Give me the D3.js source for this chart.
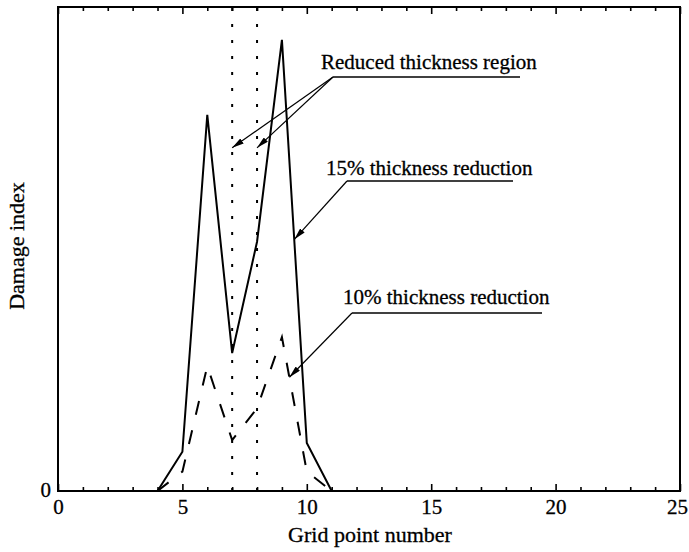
<!DOCTYPE html>
<html>
<head>
<meta charset="utf-8">
<script src="https://cdn.jsdelivr.net/npm/d3@7"></script>
<style>
  body { margin: 0; background: #fff; }
  svg text { font-family: "Liberation Serif", "Times New Roman", serif; fill: #000; stroke: #000; stroke-width: 0.3; }
</style>
</head>
<body>
<svg id="chart" width="689" height="552"></svg>
<script>
// grid points and damage index
const gridPoints = [4, 5, 6, 7, 8, 9, 10, 11];
const damage15 = [0, 0.081, 0.777, 0.285, 0.515, 0.932, 0.099, 0];
const damage10 = [0, 0.04, 0.258, 0.105, 0.171, 0.318, 0.04, 0];
const regionBounds = [7, 8];
const majorTicks = [0, 5, 10, 15, 20, 25];
const minorTicks = [1, 2, 3, 4, 6, 7, 8, 9, 11, 12, 13, 14, 16, 17, 18, 19, 21, 22, 23, 24];
const yTickLabels = ['0'];

const labels = ['Reduced thickness region', '15% thickness reduction', '10% thickness reduction'];

const margin = {left: 58, right: 9, top: 7, bottom: 61};
const width = 689, height = 552;
const svg = d3.select('#chart');

const x = d3.scaleLinear().domain([0, 25]).range([margin.left, width - margin.right]);
const y = d3.scaleLinear().domain([0, 1]).range([height - margin.bottom, margin.top]);

const defs = svg.append('defs');
defs.append('marker')
    .attr('id', 'arrow')
    .attr('viewBox', '0 0 12 6')
    .attr('refX', 12).attr('refY', 3)
    .attr('markerWidth', 12).attr('markerHeight', 6)
    .attr('markerUnits', 'userSpaceOnUse')
    .attr('orient', 'auto')
    .append('path')
    .attr('d', 'M0,0 L12,3 L0,6 Z')
    .attr('fill', '#000');

// axes (ticks point inward, labels only at the bottom)
const bottomAxis = svg.append('g').attr('transform', `translate(0,${y(0)})`);
bottomAxis.call(d3.axisBottom(x).tickValues(majorTicks).tickSize(-7).tickPadding(8).tickFormat(d3.format('d')));
bottomAxis.append('g').call(d3.axisBottom(x).tickValues(minorTicks).tickSize(-4).tickFormat(''));

const topAxis = svg.append('g').attr('transform', `translate(0,${y(1)})`);
topAxis.call(d3.axisTop(x).tickValues(majorTicks).tickSize(-7).tickFormat(''));
topAxis.append('g').call(d3.axisTop(x).tickValues(minorTicks).tickSize(-4).tickFormat(''));

svg.selectAll('.domain').remove();
svg.selectAll('.tick line').attr('stroke', '#000').attr('stroke-width', 1.6);
bottomAxis.selectAll('.tick text').style('font-size', '21px').attr('font-family', null)
    .attr('dx', d => d === 25 ? -3 : 0);

svg.append('rect')
    .attr('x', x(0)).attr('y', y(1))
    .attr('width', x(25) - x(0)).attr('height', y(0) - y(1))
    .attr('fill', 'none').attr('stroke', '#000').attr('stroke-width', 2);

svg.append('text')
    .attr('x', x(0) - 7).attr('y', y(0)).attr('dy', '0.3em')
    .attr('text-anchor', 'end')
    .style('font-size', '21px')
    .text(yTickLabels[0]);

// axis titles
svg.append('text')
    .attr('x', (x(0) + x(25)) / 2 + 1).attr('y', 542)
    .attr('text-anchor', 'middle')
    .style('font-size', '22px')
    .text('Grid point number');

svg.append('text')
    .attr('transform', `translate(24,${246}) rotate(-90)`)
    .attr('text-anchor', 'middle')
    .style('font-size', '22px')
    .text('Damage index');

// reduced thickness region bounds
svg.selectAll('.bound')
    .data(regionBounds)
    .enter().append('line')
    .attr('x1', d => x(d)).attr('x2', d => x(d))
    .attr('y1', y(0)).attr('y2', y(1))
    .attr('stroke', '#000')
    .attr('stroke-width', 2)
    .attr('stroke-dasharray', '3,13');

const line = d3.line().x(d => x(d[0])).y(d => y(d[1]));

svg.append('path')
    .datum(d3.zip(gridPoints, damage10))
    .attr('d', line)
    .attr('fill', 'none').attr('stroke', '#000')
    .attr('stroke-width', 2)
    .attr('stroke-dasharray', '14,16');

svg.append('path')
    .datum(d3.zip(gridPoints, damage15))
    .attr('d', line)
    .attr('fill', 'none').attr('stroke', '#000')
    .attr('stroke-width', 2)
    .attr('stroke-linejoin', 'miter');

// callouts: text, underline, arrows into data coordinates
const callouts = [
    {text: labels[0], tx: 321, ty: 69, ux1: 333, ux2: 520, uy: 77,
     targets: [[7, 0.709], [8, 0.709]]},
    {text: labels[1], tx: 326, ty: 175, ux1: 347, ux2: 513, uy: 181,
     targets: [[9.5, 0.52]]},
    {text: labels[2], tx: 343, ty: 304, ux1: 352, ux2: 542, uy: 313,
     targets: [[9.3, 0.235]]}
];

const callout = svg.selectAll('.callout')
    .data(callouts)
    .enter().append('g');

callout.append('text')
    .attr('x', d => d.tx).attr('y', d => d.ty)
    .style('font-size', '21px')
    .text(d => d.text);

callout.append('line')
    .attr('x1', d => d.ux1).attr('x2', d => d.ux2)
    .attr('y1', d => d.uy).attr('y2', d => d.uy)
    .attr('stroke', '#000').attr('stroke-width', 1.3);

callout.selectAll('.arrow')
    .data(d => d.targets.map(t => ({from: [d.ux1, d.uy], to: t})))
    .enter().append('line')
    .attr('x1', d => d.from[0]).attr('y1', d => d.from[1])
    .attr('x2', d => x(d.to[0])).attr('y2', d => y(d.to[1]))
    .attr('stroke', '#000').attr('stroke-width', 1.2)
    .attr('marker-end', 'url(#arrow)');
</script>
</body>
</html>
